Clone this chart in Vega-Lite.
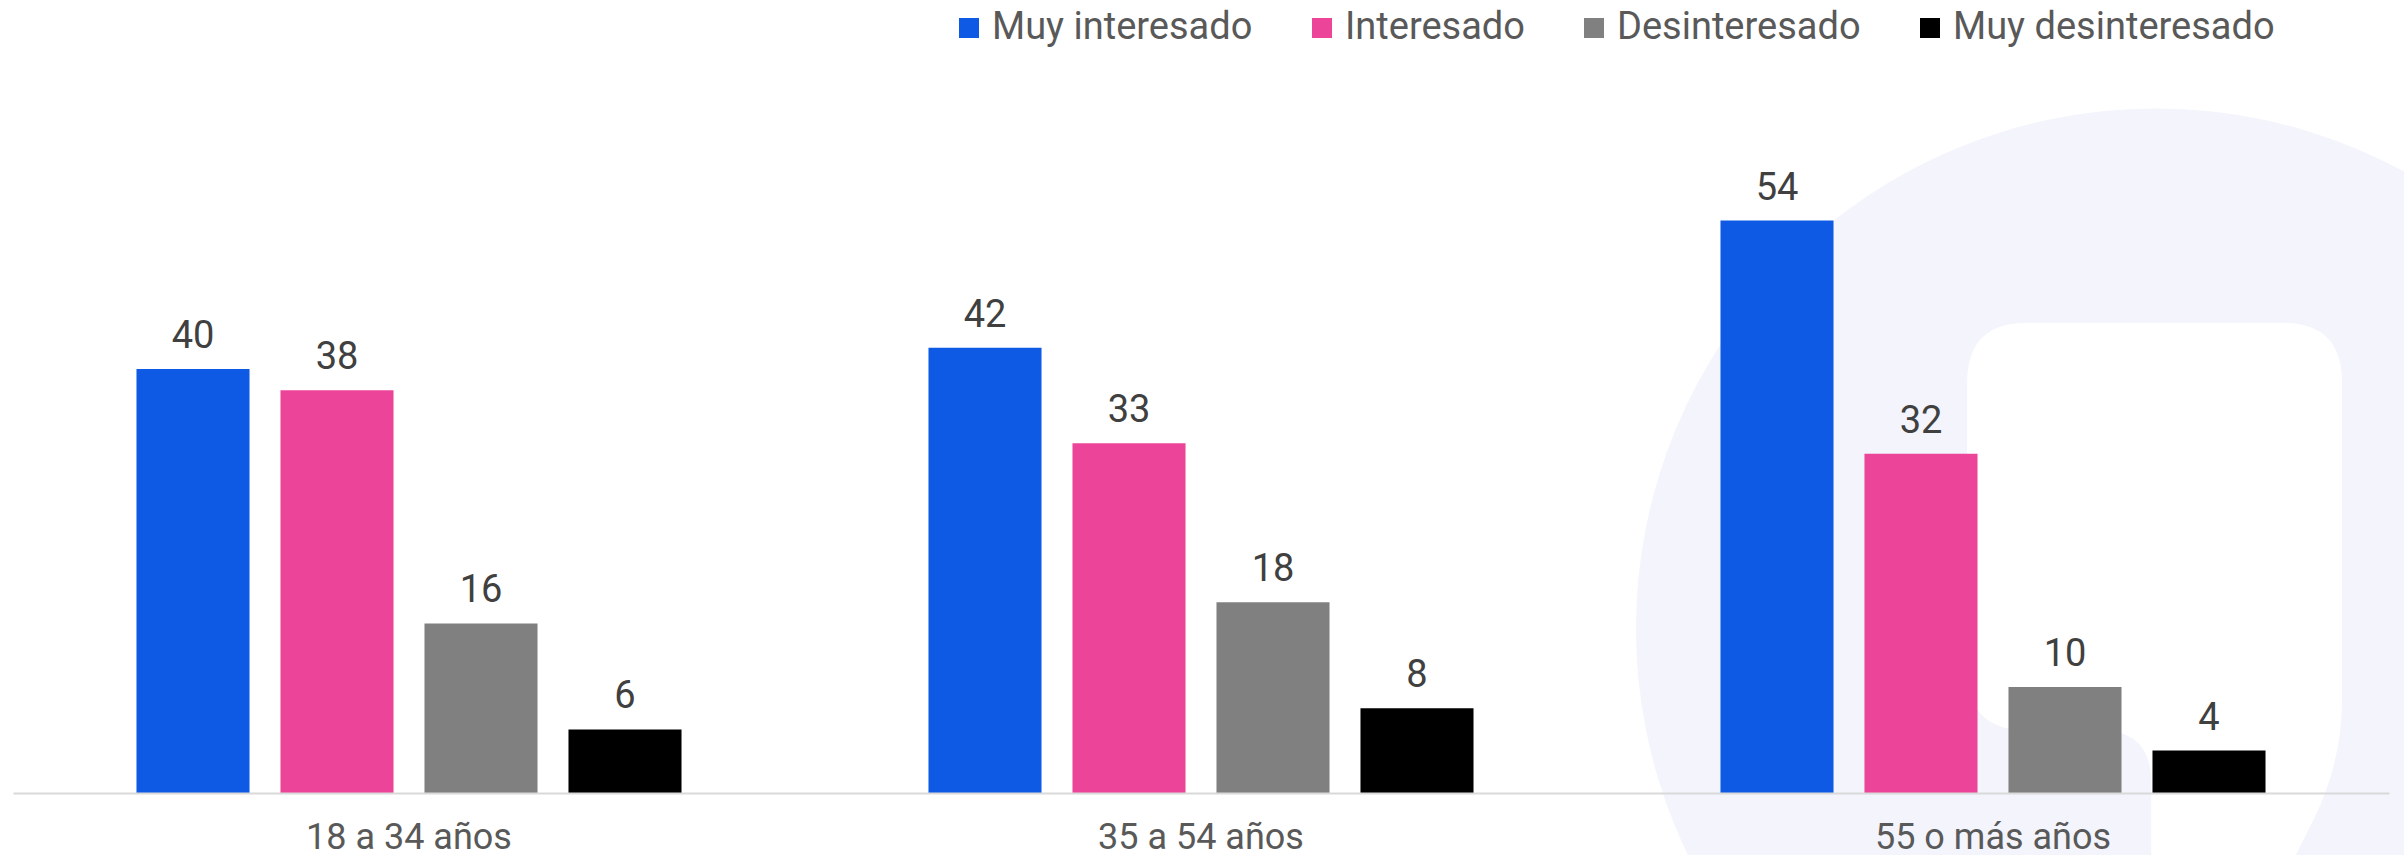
{
  "$schema": "https://vega.github.io/schema/vega-lite/v6.json",
  "width": 2376,
  "height": 636,
  "autosize": {"type": "none"},
  "padding": {"left": 13, "top": 157, "right": 15, "bottom": 62},
  "background": "#ffffff",
  "config": {
    "view": {"stroke": null},
    "font": "Roboto"
  },
  "data": {
    "values": [
      {"edad": "18 a 34 años", "nivel": "Muy interesado", "valor": 40},
      {"edad": "18 a 34 años", "nivel": "Interesado", "valor": 38},
      {"edad": "18 a 34 años", "nivel": "Desinteresado", "valor": 16},
      {"edad": "18 a 34 años", "nivel": "Muy desinteresado", "valor": 6},
      {"edad": "35 a 54 años", "nivel": "Muy interesado", "valor": 42},
      {"edad": "35 a 54 años", "nivel": "Interesado", "valor": 33},
      {"edad": "35 a 54 años", "nivel": "Desinteresado", "valor": 18},
      {"edad": "35 a 54 años", "nivel": "Muy desinteresado", "valor": 8},
      {"edad": "55 o más años", "nivel": "Muy interesado", "valor": 54},
      {"edad": "55 o más años", "nivel": "Interesado", "valor": 32},
      {"edad": "55 o más años", "nivel": "Desinteresado", "valor": 10},
      {"edad": "55 o más años", "nivel": "Muy desinteresado", "valor": 4}
    ]
  },
  "encoding": {
    "x": {
      "field": "edad", "type": "nominal",
      "sort": ["18 a 34 años", "35 a 54 años", "55 o más años"],
      "scale": {"domain": ["18 a 34 años", "35 a 54 años", "55 o más años"], "paddingInner": 0, "paddingOuter": 0},
      "axis": {
        "title": null, "labelAngle": 0, "ticks": false, "zindex": 1,
        "domainColor": "#D9D9D9", "domainWidth": 2,
        "labelFont": "Roboto", "labelFontSize": 36, "labelColor": "#595959",
        "labelPadding": 27, "labelLimit": 600
      }
    },
    "y": {
      "field": "valor", "type": "quantitative",
      "scale": {"domain": [0, 60], "nice": false, "zero": true},
      "axis": null
    }
  },
  "layer": [
    {
      "transform": [{"filter": "datum.edad == '55 o más años' && datum.nivel == 'Muy interesado'"}],
      "mark": {"type": "point", "shape": "circle", "filled": true, "color": "#F3F4FC", "opacity": 1, "size": 1081600, "xOffset": 163, "yOffset": 408}
    },
    {
      "transform": [{"filter": "datum.edad == '55 o más años' && datum.nivel == 'Muy interesado'"}],
      "mark": {
        "type": "point",
        "shape": "M-0.252,-0.594 L0.239,-0.594 Q0.354,-0.594 0.354,-0.479 L0.354,0.13 Q0.354,0.25 0.3,0.36 L0.23,0.5 L-0.013,0.5 L-0.013,0.29 Q-0.013,0.19 -0.11,0.19 L-0.252,0.19 Q-0.367,0.19 -0.367,0.075 L-0.367,-0.479 Q-0.367,-0.594 -0.252,-0.594 Z",
        "filled": true, "color": "#FFFFFF", "opacity": 1, "size": 1081600, "xOffset": 165, "yOffset": 411
      }
    },
    {
      "mark": {"type": "bar"},
      "encoding": {
        "xOffset": {
          "field": "nivel", "type": "nominal",
          "sort": ["Muy interesado", "Interesado", "Desinteresado", "Muy desinteresado"],
          "scale": {"paddingInner": 0.215, "paddingOuter": 0.8575}
        },
        "color": {
          "field": "nivel", "type": "nominal",
          "sort": ["Muy interesado", "Interesado", "Desinteresado", "Muy desinteresado"],
          "scale": {
            "domain": ["Muy interesado", "Interesado", "Desinteresado", "Muy desinteresado"],
            "range": ["#0F5AE5", "#EC4498", "#808080", "#000000"]
          },
          "legend": {
            "title": null,
            "orient": "none",
            "direction": "horizontal",
            "legendX": 937,
            "legendY": -148,
            "symbolType": "square",
            "symbolSize": 400,
            "symbolStrokeWidth": 0,
            "labelFont": "Roboto",
            "labelFontSize": 38,
            "labelColor": "#595959",
            "labelOffset": 4,
            "labelLimit": 600,
            "columnPadding": 50,
            "padding": 0
          }
        }
      }
    },
    {
      "mark": {"type": "text", "baseline": "alphabetic", "dy": -21, "fontSize": 38, "font": "Roboto", "color": "#404040"},
      "encoding": {
        "xOffset": {
          "field": "nivel", "type": "nominal",
          "sort": ["Muy interesado", "Interesado", "Desinteresado", "Muy desinteresado"]
        },
        "text": {"field": "valor", "type": "quantitative"}
      }
    }
  ]
}
